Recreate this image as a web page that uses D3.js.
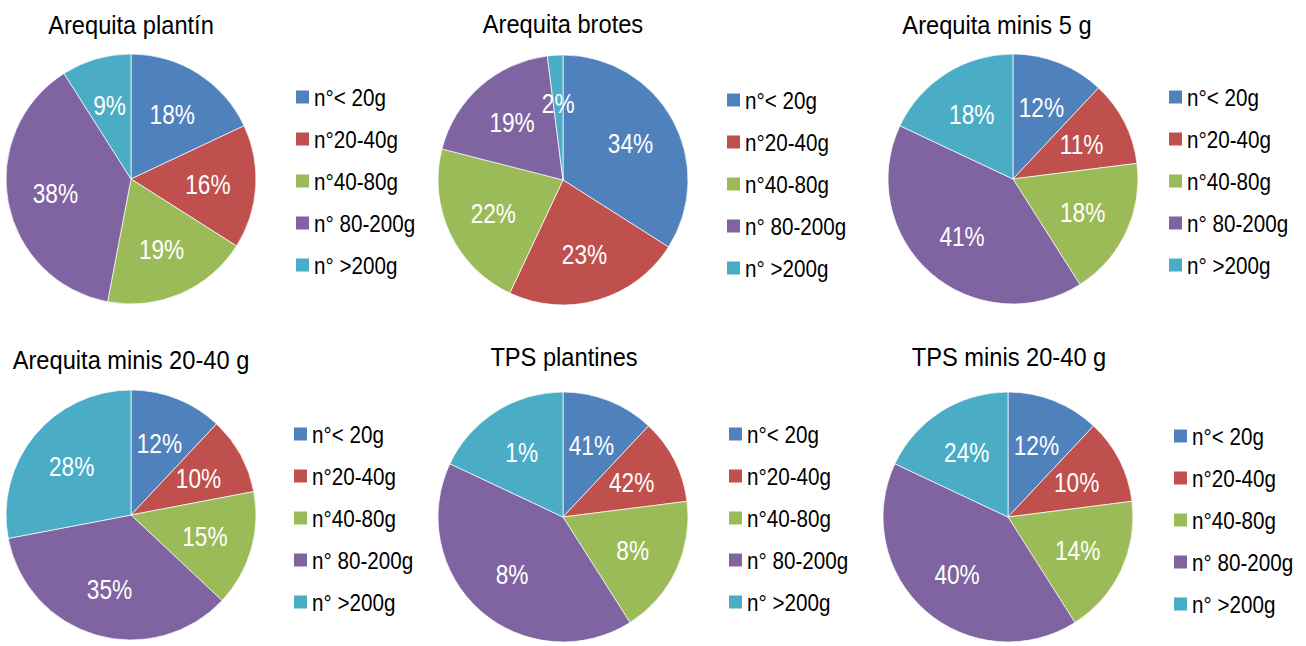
<!DOCTYPE html>
<html>
<head>
<meta charset="utf-8">
<script src="https://cdn.jsdelivr.net/npm/d3@7"></script>
<style>
  html, body { margin: 0; padding: 0; background: #fff; }
  .chart text { font-family: "Liberation Sans", Arial, sans-serif; }
</style>
</head>
<body>
<div class="chart"></div>
<script>
var categories = ["n°< 20g", "n°20-40g", "n°40-80g", "n° 80-200g", "n° >200g"];
var colors = ["#4f81bd", "#c0504d", "#9bbb59", "#8064a2", "#4bacc6"];
var titles = ["Arequita plantín", "Arequita brotes", "Arequita minis 5 g",
              "Arequita minis 20-40 g", "TPS plantines", "TPS minis 20-40 g"];

// slice sizes (%) as drawn
var plantinValues     = [18, 16, 19, 38, 9];
var brotesValues      = [34, 23, 22, 19, 2];
var minis5Values      = [12, 11, 18, 41, 18];
var minis2040Values   = [12, 10, 15, 35, 28];
var tpsPlantinValues  = [12, 11, 18, 41, 18];
var tpsMinisValues    = [12, 11, 18, 41, 18];

// labels as printed on the slices (TPS ones don't match the slice sizes)
var plantinLabels     = ["18%", "16%", "19%", "38%", "9%"];
var brotesLabels      = ["34%", "23%", "22%", "19%", "2%"];
var minis5Labels      = ["12%", "11%", "18%", "41%", "18%"];
var minis2040Labels   = ["12%", "10%", "15%", "35%", "28%"];
var tpsPlantinLabels  = ["41%", "42%", "8%", "8%", "1%"];
var tpsMinisLabels    = ["12%", "10%", "14%", "40%", "24%"];

var allValues = [plantinValues, brotesValues, minis5Values, minis2040Values, tpsPlantinValues, tpsMinisValues];
var allLabels = [plantinLabels, brotesLabels, minis5Labels, minis2040Labels, tpsPlantinLabels, tpsMinisLabels];

var width = 1306,
    height = 646,
    radius = 125,
    labelRadius = 77,
    legendStep = 42,
    swatch = 13;

// placement of each panel (pie centre, title, legend)
var panels = [
  {cx: 131,  cy: 179, titleX: 131,  titleY: 34,  legX: 296,  legY: 97},
  {cx: 563,  cy: 180, titleX: 563,  titleY: 33,  legX: 727,  legY: 100},
  {cx: 1013, cy: 179, titleX: 997,  titleY: 34,  legX: 1169, legY: 97},
  {cx: 131,  cy: 515, titleX: 131,  titleY: 369, legX: 294,  legY: 434},
  {cx: 563,  cy: 517, titleX: 564,  titleY: 366, legX: 729,  legY: 434},
  {cx: 1008, cy: 517, titleX: 1009, titleY: 366, legX: 1174, legY: 436}
];

const svg = d3.select(".chart").append("svg")
    .attr("width", width)
    .attr("height", height);

var color = d3.scaleOrdinal()
    .domain(d3.range(categories.length))
    .range(colors);

var pie = d3.pie()
    .sort(null)
    .value(_d => _d);

var arc = d3.arc()
    .innerRadius(0)
    .outerRadius(radius);

var labelArc = d3.arc()
    .innerRadius(labelRadius)
    .outerRadius(labelRadius);

/**
 * Draws one pie with its title and legend.
 * Text is squeezed horizontally to mimic the condensed font of the original.
 */
function renderPanel(i) {
  let p = panels[i];
  let labels = allLabels[i];
  let g = svg.append("g");

  g.append("text")
    .attr("transform", `translate(${p.titleX}, ${p.titleY}) scale(0.91, 1)`)
    .attr("text-anchor", "middle")
    .attr("font-size", "26px")
    .attr("fill", "#000")
    .text(titles[i]);

  let slices = g.append("g")
    .attr("transform", `translate(${p.cx}, ${p.cy})`)
    .selectAll(".arc")
    .data(pie(allValues[i]))
    .enter().append("g")
    .attr("class", "arc");

  slices.append("path")
    .attr("d", arc)
    .attr("fill", (_d, j) => color(j))
    .attr("stroke", "#fff")
    .attr("stroke-width", 0.7);

  slices.append("text")
    .attr("transform", _d => `translate(${labelArc.centroid(_d)}) scale(0.84, 1)`)
    .attr("dy", ".36em")
    .attr("text-anchor", "middle")
    .attr("font-size", "27px")
    .attr("fill", "#fff")
    .text((_d, j) => labels[j]);

  let legend = g.selectAll(".legend")
    .data(categories)
    .enter().append("g")
    .attr("class", "legend")
    .attr("transform", (_d, j) => `translate(${p.legX}, ${p.legY + j * legendStep})`);

  legend.append("rect")
    .attr("x", 0)
    .attr("y", -swatch / 2)
    .attr("width", swatch)
    .attr("height", swatch)
    .attr("fill", (_d, j) => color(j));

  legend.append("text")
    .attr("transform", "translate(18, 8.5) scale(0.86, 1)")
    .attr("font-size", "24px")
    .attr("fill", "#000")
    .text(_d => _d);
}

d3.range(panels.length).forEach(renderPanel);
</script>
</body>
</html>
